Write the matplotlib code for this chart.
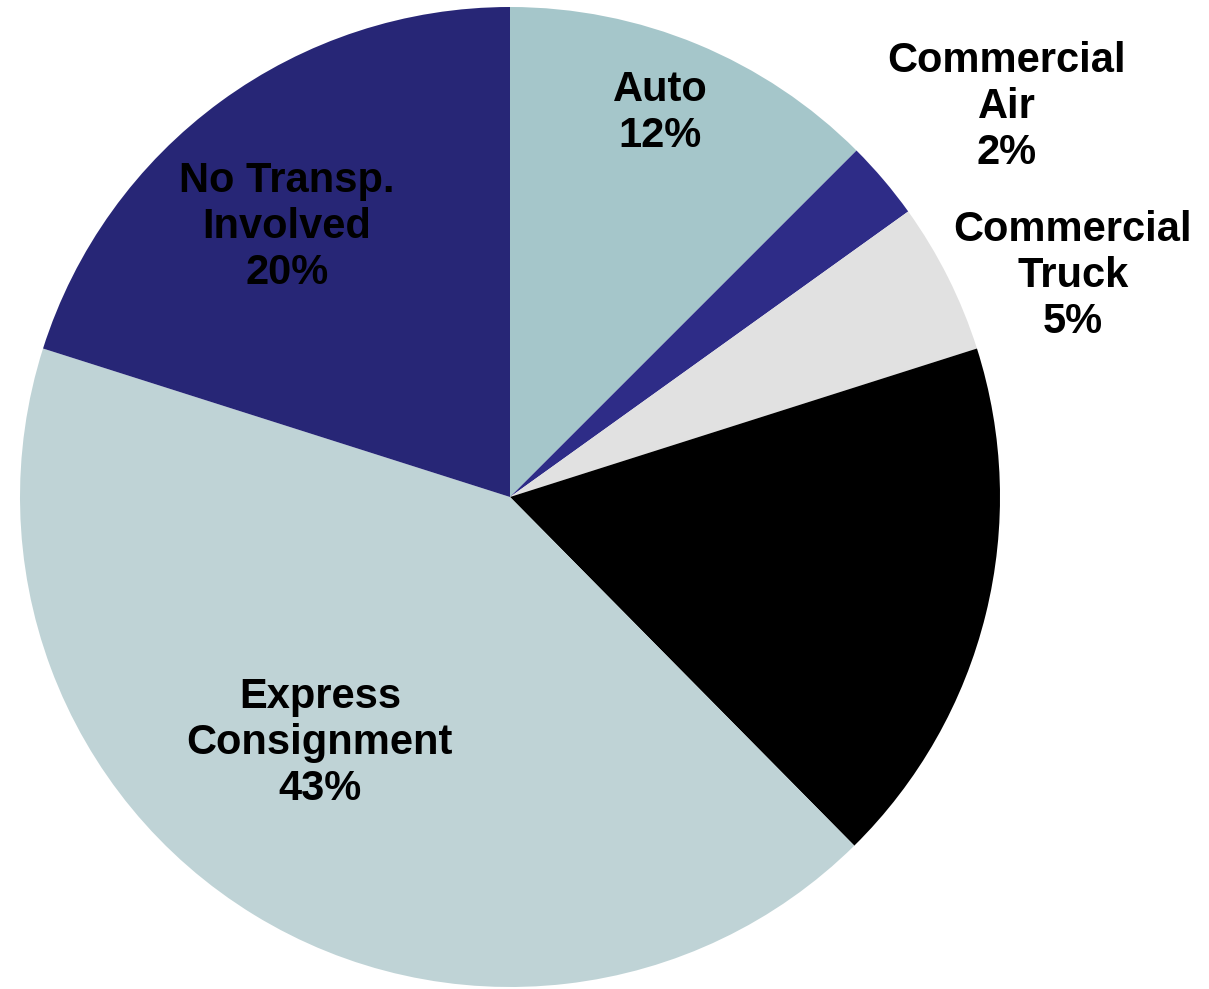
import matplotlib
matplotlib.use("Agg")
import matplotlib.pyplot as plt

# slice shares (clockwise from 12 o'clock)
categories = ["Auto", "Commercial Air", "Commercial Truck", "Other",
              "Express Consignment", "No Transp. Involved"]
shares = [12.5, 2.6, 5.0, 17.5, 42.3, 20.1]
labels = ["Auto\n12%", "Commercial\nAir\n2%", "Commercial\nTruck\n5%", "",
          "Express\nConsignment\n43%", "No Transp.\nInvolved\n20%"]
colors = ["#A5C6CA", "#2E2C87", "#E1E1E1", "#000000", "#BFD3D6", "#272676"]
label_xy = [(0.306, 0.784), (1.014, 0.796), (1.149, 0.451), (0, 0),
            (-0.388, -0.502), (-0.455, 0.551)]

plt.rcParams['font.family'] = ['Liberation Sans', 'DejaVu Sans']

fig = plt.figure(figsize=(12.09, 9.89), dpi=100)
ax = fig.add_axes([(510 - 490) / 1209, (989 - 497 - 490) / 989, 980 / 1209, 980 / 989])
ax.pie(shares, colors=colors, startangle=90, counterclock=False, radius=1.0,
       wedgeprops=dict(linewidth=0))
for lab, (x, y) in zip(labels, label_xy):
    if lab:
        ax.text(x, y, lab, ha="center", va="center", fontsize=30,
                fontweight="bold", linespacing=1.2, color="black")
ax.set_xlim(-1, 1)
ax.set_ylim(-1, 1)
ax.set_aspect("equal")
ax.axis("off")
fig.savefig("out.png", dpi=100)
